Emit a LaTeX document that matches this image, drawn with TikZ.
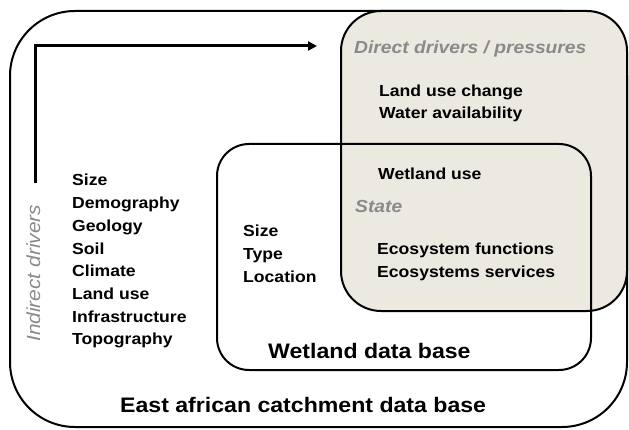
\documentclass[tikz,border=0pt]{standalone}
\usepackage{fontspec}
\setmainfont{Liberation Sans}[FakeStretch=1.1]
\usepackage{xcolor}
\usepackage{tikz}
\usetikzlibrary{arrows.meta, positioning}

\definecolor{shade}{HTML}{ECE9E0}
\definecolor{greytext}{HTML}{8A8A8A}

\begin{document}
\begin{tikzpicture}[
    x=1pt, y=-1pt,
    dbbox/.style={rectangle, draw, line width=2pt, inner sep=0pt},
    item/.style={anchor=base west, inner sep=0pt, font=\fontsize{16}{20}\selectfont\bfseries},
    heading/.style={anchor=base west, inner sep=0pt, text=greytext, font=\fontsize{17.5}{21}\selectfont\bfseries\itshape},
    title/.style={anchor=base west, inner sep=0pt, font=\fontsize{21}{25}\selectfont\bfseries},
    flow/.style={-{Triangle[length=9pt, width=9pt]}, line width=3pt}
]
\useasboundingbox (0,0) rectangle (629,430);

% Catchment data base
\node[dbbox, rounded corners=65pt, minimum width=617pt, minimum height=416pt] (catchment) at (318.5,219) {};

% Direct drivers / state
\node[dbbox, fill=shade, rounded corners=40pt, minimum width=286pt, minimum height=300pt] (direct) at (484,161) {};

% Wetland data base
\node[dbbox, rounded corners=32pt, minimum width=374pt, minimum height=226pt] (wetland) at (404,257) {};

% Indirect drivers
\node[anchor=base west, inner sep=0pt, rotate=90, text=greytext, font=\fontsize{19}{22}\selectfont\itshape] (indirect) at (40,342) {Indirect drivers};
\foreach \name [count=\i] in {Size, Demography, Geology, Soil, Climate, Land use, Infrastructure, Topography}
    \node[item] (ind\i) at (72,186+22.7*\i-22.7) {\name};

% Wetland attributes
\node[item] (wsize) at (243,237) {Size};
\node[item] (wtype) at (243,260) {Type};
\node[item] (wloc) at (243,283) {Location};

% Pressures and state
\node[heading] (pressures) at (354,54) {Direct drivers / pressures};
\node[item] (landuse) at (379,97) {Land use change};
\node[item] (water) at (379,119) {Water availability};
\node[item] (wetuse) at (378,180) {Wetland use};
\node[heading] (state) at (355,213) {State};
\node[item] (functions) at (377,255) {Ecosystem functions};
\node[item] (services) at (377,278) {Ecosystems services};

% Titles
\node[title] (wettitle) at (268,358) {Wetland data base};
\node[title] (catchtitle) at (120,412) {East african catchment data base};

% Arrow
\coordinate (start) at (35,183);
\coordinate (tip) at (317,46);
\draw[flow] (start) |- (tip);

\end{tikzpicture}
\end{document}
